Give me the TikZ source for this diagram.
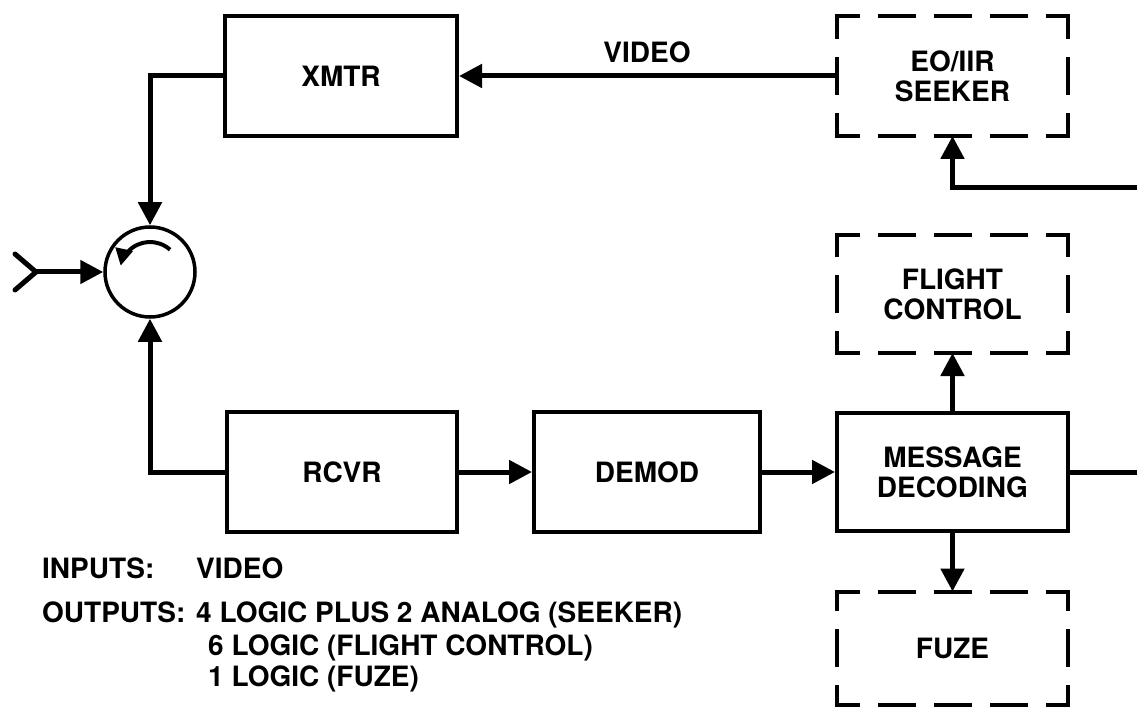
\documentclass[tikz,border=0pt]{standalone}
\usepackage{fontspec}
\setmainfont{TeX Gyre Heros}
\usetikzlibrary{arrows.meta,calc}
\newcommand\lbl{\bfseries\fontsize{28}{30}\selectfont}
\tikzset{
  box/.style={draw, line width=4pt, rectangle, minimum width=231pt, minimum height=120pt, inner sep=0pt, font=\lbl, align=center},
  dbox/.style={rectangle, minimum width=231pt, inner sep=0pt, outer sep=0pt, font=\lbl, align=center},
  conn/.style={line width=5pt},
  arr/.style={conn, -{Triangle[length=23pt,width=23pt]}},
  dh/.style={line width=4pt, line cap=rect, dash pattern=on 20.5pt off 22pt on 34pt off 22pt on 34pt off 22pt on 34pt off 22pt on 20.5pt},
  dv/.style={line width=4pt, line cap=rect, dash pattern=on #1 off 22pt on 34pt off 22pt on #1},
  txt/.style={anchor=base west, font=\lbl, inner sep=0pt},
}
\newcommand\dashedborder[2]{%
  \draw[dh] (#1.north west) -- (#1.north east);
  \draw[dh] (#1.south west) -- (#1.south east);
  \draw[dv=#2] (#1.north west) -- (#1.south west);
  \draw[dv=#2] (#1.north east) -- (#1.south east);}
\begin{document}
\begin{tikzpicture}[x=1pt,y=-1pt]
\useasboundingbox (0,0) rectangle (1137,708);
% solid boxes
\node[box, minimum width=232pt] (xmtr) at (341,76) {XMTR};
\node[box, minimum width=230pt] (rcvr) at (342,472) {RCVR};
\node[box, minimum width=226pt] (demod) at (647,472) {DEMOD};
\node[box, minimum height=118pt] (md) at (952.5,472) {MESSAGE\\DECODING};
% dashed boxes
\node[dbox, minimum height=120pt] (seeker) at (952.5,76) {EO/IIR\\SEEKER};
\node[dbox, minimum height=118pt] (fc) at (952.5,294) {FLIGHT\\CONTROL};
\node[dbox, minimum height=113pt] (fuze) at (952.5,648) {FUZE};
\dashedborder{seeker}{21pt}
\dashedborder{fc}{20pt}
\dashedborder{fuze}{17.5pt}
% circulator
\node[circle, draw, line width=3.5pt, minimum size=90pt, inner sep=0pt] (circ) at (150,272) {};
\draw[line width=4pt, -{Triangle[length=17pt,width=17pt]}]
  ($(circ.center)+(-48:30)$) arc[start angle=-48, end angle=-168, radius=30];
% antenna
\coordinate (ant) at (36,272);
\draw[conn, line cap=round] (15,254) -- (ant) -- (15,290);
\draw[arr] (ant) -- (circ.west);
% connectors
\draw[arr] (seeker.west) -- (xmtr.east);
\node[font=\lbl, inner sep=0pt] (video) at (647,52) {VIDEO};
\draw[arr] (xmtr.west) -| (circ.north);
\draw[arr] (rcvr.west) -| (circ.south);
\draw[arr] (rcvr.east) -- (demod.west);
\draw[arr] (demod.east) -- (md.west);
\draw[arr] (md.north) -- (fc.south);
\draw[arr] (md.south) -- (fuze.north);
\coordinate (r1) at (1137,472);
\coordinate (r2) at (1137,188);
\draw[conn] (md.east) -- (r1);
\draw[arr] (r2) -| (seeker.south);
% notes
\node[txt] (inl) at (42,578) {INPUTS:};
\node[txt] (inv) at (196,578) {VIDEO};
\node[txt] (outl) at (42,622) {OUTPUTS:};
\node[txt] (o1) at (196,622) {4 LOGIC PLUS 2 ANALOG (SEEKER)};
\node[txt] (o2) at (208,655) {6 LOGIC (FLIGHT CONTROL)};
\node[txt] (o3) at (208,686) {1 LOGIC (FUZE)};
\end{tikzpicture}
\end{document}
